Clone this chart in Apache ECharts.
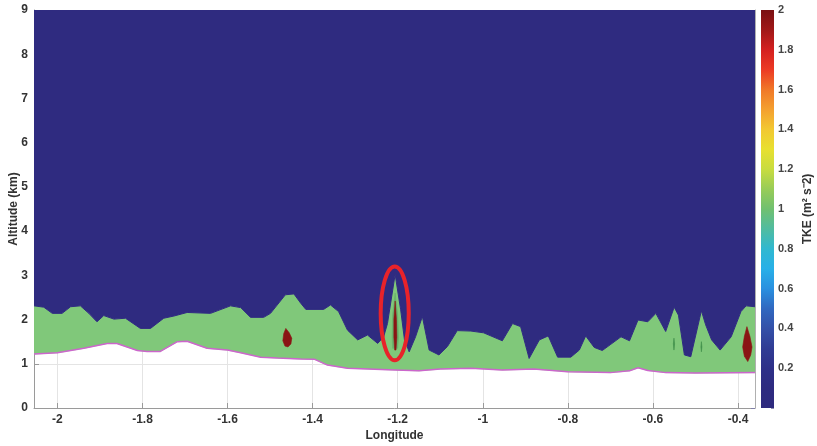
<!DOCTYPE html>
<html>
<head>
<meta charset="utf-8">
<style>
  html, body { margin: 0; padding: 0; background: #fff; }
  #main { width: 817px; height: 446px; }
</style>
<script src="https://cdn.jsdelivr.net/npm/echarts@6/dist/echarts.min.js"></script>
</head>
<body>
<div id="main"></div>
<script>
  // tick labels
  const lonTicks = [-2, -1.8, -1.6, -1.4, -1.2, -1, -0.8, -0.6, -0.4];

  // top of the TKE ~ 1 layer (lon, km)
  const tkeTop = [
    [-2.055, 2.31], [-2.032, 2.28], [-2.012, 2.14], [-1.989, 2.14], [-1.969, 2.29],
    [-1.946, 2.31], [-1.926, 2.14], [-1.907, 1.95], [-1.891, 2.09], [-1.867, 2.01],
    [-1.840, 2.03], [-1.805, 1.80], [-1.781, 1.80], [-1.750, 2.03], [-1.726, 2.08],
    [-1.695, 2.16], [-1.640, 2.14], [-1.593, 2.31], [-1.569, 2.27], [-1.546, 2.05],
    [-1.515, 2.05], [-1.499, 2.14], [-1.464, 2.56], [-1.444, 2.58], [-1.428, 2.37],
    [-1.416, 2.23], [-1.374, 2.23], [-1.358, 2.33], [-1.339, 2.18], [-1.318, 1.76],
    [-1.294, 1.54], [-1.271, 1.65], [-1.247, 1.46], [-1.233, 1.61], [-1.224, 1.91],
    [-1.206, 3.02], [-1.193, 2.22], [-1.184, 1.54], [-1.173, 1.27], [-1.158, 1.61],
    [-1.142, 2.07], [-1.126, 1.31], [-1.103, 1.20], [-1.083, 1.39], [-1.060, 1.75],
    [-1.028, 1.74], [-0.998, 1.70], [-0.954, 1.52], [-0.930, 1.91], [-0.911, 1.84],
    [-0.891, 1.12], [-0.867, 1.54], [-0.846, 1.63], [-0.824, 1.15], [-0.793, 1.15],
    [-0.773, 1.31], [-0.758, 1.63], [-0.738, 1.37], [-0.719, 1.30], [-0.699, 1.44],
    [-0.675, 1.61], [-0.655, 1.52], [-0.635, 1.99], [-0.612, 1.95], [-0.593, 2.14],
    [-0.570, 1.73], [-0.550, 2.28], [-0.540, 2.10], [-0.526, 1.20], [-0.511, 1.16],
    [-0.486, 2.20], [-0.476, 1.88], [-0.462, 1.54], [-0.442, 1.31], [-0.416, 1.61],
    [-0.393, 2.18], [-0.381, 2.31], [-0.360, 2.29]
  ];

  // terrain height (lon, km)
  const terrain = [
    [-2.055, 1.22], [-2.000, 1.25], [-1.938, 1.35], [-1.883, 1.46], [-1.860, 1.46],
    [-1.812, 1.30], [-1.789, 1.28], [-1.758, 1.28], [-1.718, 1.50], [-1.695, 1.51],
    [-1.648, 1.35], [-1.600, 1.31], [-1.569, 1.25], [-1.522, 1.15], [-1.483, 1.13],
    [-1.428, 1.11], [-1.395, 1.10], [-1.365, 0.97], [-1.318, 0.90], [-1.206, 0.86],
    [-1.150, 0.84], [-1.100, 0.88], [-1.028, 0.90], [-0.954, 0.86], [-0.880, 0.88],
    [-0.800, 0.82], [-0.700, 0.80], [-0.655, 0.84], [-0.635, 0.91], [-0.612, 0.85],
    [-0.570, 0.80], [-0.500, 0.79], [-0.360, 0.80]
  ];

  // TKE ~ 2 cores
  const coreA = [[-1.463, 1.80], [-1.455, 1.70], [-1.449, 1.58], [-1.451, 1.45], [-1.458, 1.38],
                 [-1.465, 1.40], [-1.470, 1.52], [-1.468, 1.68]];
  const coreB = [[-0.379, 1.84], [-0.372, 1.62], [-0.367, 1.38], [-0.370, 1.20], [-0.377, 1.05],
                 [-0.385, 1.17], [-0.389, 1.38], [-0.385, 1.62]];
  const streak = [[-1.206, 2.42], [-1.203, 2.0], [-1.202, 1.6], [-1.204, 1.31], [-1.207, 1.31],
                  [-1.209, 1.6], [-1.209, 2.0]];
  const streakHalo = [[-1.206, 2.6], [-1.200, 2.1], [-1.198, 1.6], [-1.200, 1.35], [-1.212, 1.35],
                      [-1.213, 1.6], [-1.212, 2.1]];
  const markA = [[-0.5505, 1.58], [-0.549, 1.45], [-0.5505, 1.31], [-0.552, 1.45]];
  const markB = [[-0.486, 1.50], [-0.4848, 1.38], [-0.486, 1.27], [-0.4872, 1.38]];

  // colour bar range
  const tkeRange = [0, 2];

  // highlighted feature (red ellipse)
  const highlight = { lon: -1.207, alt: 2.14, dLon: 0.033, dAlt: 1.06 };

  const NAVY = '#2f2b80';
  const GREEN = '#80c87a';
  const DARKRED = '#8a1414';

  // jet-like colour map, value -> colour
  const jet = [
    [2.0, '#7a1012'], [1.9, '#a01818'], [1.8, '#d42020'], [1.7, '#ec3a24'], [1.6, '#f07828'],
    [1.5, '#f4a030'], [1.4, '#f2c832'], [1.3, '#e8e030'], [1.2, '#c8dc40'], [1.1, '#98cc58'],
    [1.0, '#70c070'], [0.9, '#50bca0'], [0.8, '#30b8d0'], [0.7, '#28b0e8'], [0.6, '#2a90e0'],
    [0.5, '#3068c0'], [0.4, '#3450a8'], [0.3, '#303c94'], [0.2, '#2e3088'], [0.1, '#2e2b80'],
    [0.0, '#2e2a7e']
  ];

  function polySeries(points, color, z) {
    return {
      type: 'custom',
      xAxisIndex: 0,
      yAxisIndex: 0,
      z: z,
      silent: true,
      data: [points[0]],
      renderItem: function (params, api) {
        return {
          type: 'polygon',
          shape: { points: points.map(function (p) { return api.coord(p); }) },
          style: { fill: color, stroke: color, lineWidth: 0.6 }
        };
      }
    };
  }

  const labelStyle = { color: '#333', fontWeight: 'bold', fontSize: 12, fontFamily: 'Liberation Sans, Arial' };

  const chart = echarts.init(document.getElementById('main'));
  chart.setOption({
    backgroundColor: '#fff',
    animation: false,
    grid: [
      { left: 34, right: 62, top: 10, bottom: 38, outerBoundsMode: 'none' },
      { left: 761, width: 13, top: 10, bottom: 38, outerBoundsMode: 'none' }
    ],
    xAxis: [
      {
        type: 'value', gridIndex: 0, min: -2.055, max: -0.36,
        name: 'Longitude', nameLocation: 'middle', nameGap: 22, nameMoveOverlap: false,
        nameTextStyle: labelStyle,
        axisLine: { lineStyle: { color: '#9a9a9a' } },
        axisTick: { inside: true, length: 5, customValues: lonTicks, lineStyle: { color: '#9a9a9a' } },
        axisLabel: Object.assign({ margin: 6, customValues: lonTicks }, labelStyle),
        splitLine: { show: true, lineStyle: { color: '#e4e4e4' } }
      },
      {
        type: 'category', gridIndex: 1, data: [''],
        axisLine: { show: false }, axisTick: { show: false }, axisLabel: { show: false }
      }
    ],
    yAxis: [
      {
        type: 'value', gridIndex: 0, min: 0, max: 9, interval: 1,
        name: 'Altitude (km)', nameLocation: 'middle', nameGap: 14, nameMoveOverlap: false,
        nameTextStyle: labelStyle,
        axisLine: { show: true, lineStyle: { color: '#9a9a9a' } },
        axisTick: { show: true, inside: true, length: 5, lineStyle: { color: '#9a9a9a' } },
        axisLabel: Object.assign({ margin: 6 }, labelStyle),
        splitLine: { show: true, lineStyle: { color: '#e4e4e4' } }
      },
      {
        type: 'value', gridIndex: 0, min: 0, max: 9, interval: 1, position: 'right',
        axisLine: { show: true, lineStyle: { color: '#b0b0b0' } },
        axisTick: { show: true, inside: true, length: 4, lineStyle: { color: '#8080a8' } },
        axisLabel: { show: false },
        splitLine: { show: false }
      },
      {
        type: 'value', gridIndex: 1, min: tkeRange[0], max: tkeRange[1], interval: 0.2, position: 'right',
        name: 'TKE (m\u00b2 s\u207b2)', nameLocation: 'middle', nameGap: 28, nameMoveOverlap: false,
        nameTextStyle: labelStyle,
        axisLine: { show: false },
        axisTick: { show: true, inside: true, length: 3, lineStyle: { color: '#9090b0' } },
        axisLabel: Object.assign({ margin: 4, formatter: function (v) { return v === 0 ? '' : v; } },
          labelStyle, { fontSize: 11, color: '#444' }),
        splitLine: { show: false }
      }
    ],
    series: [
      // TKE ~ 1 layer between terrain and its top
      Object.assign(polySeries(tkeTop.concat(terrain.slice().reverse()), GREEN, 1), { clip: true }),
      // low TKE above the layer
      {
        type: 'line', xAxisIndex: 0, yAxisIndex: 0, z: 2, silent: true,
        data: tkeTop, symbol: 'none',
        lineStyle: { color: NAVY, width: 1 },
        areaStyle: { color: NAVY, opacity: 1, origin: 'end' }
      },
      polySeries(streakHalo, '#68b06c', 3),
      polySeries(markA, '#3f8f4a', 3),
      polySeries(markB, '#3f8f4a', 3),
      polySeries(coreA, DARKRED, 4),
      polySeries(coreB, DARKRED, 4),
      polySeries(streak, DARKRED, 4),
      // terrain
      {
        type: 'line', xAxisIndex: 0, yAxisIndex: 0, z: 5, silent: true,
        data: terrain, symbol: 'none',
        lineStyle: { color: '#cc66cc', width: 1.5 }
      },
      // highlight ellipse
      {
        type: 'custom', xAxisIndex: 0, yAxisIndex: 0, z: 6, silent: true,
        data: [[highlight.lon, highlight.alt]],
        renderItem: function (params, api) {
          const c = api.coord([highlight.lon, highlight.alt]);
          const e = api.coord([highlight.lon + highlight.dLon, highlight.alt + highlight.dAlt]);
          return {
            type: 'ellipse',
            shape: { cx: c[0], cy: c[1], rx: e[0] - c[0], ry: c[1] - e[1] },
            style: { fill: 'none', stroke: '#e8232a', lineWidth: 4 }
          };
        }
      },
      // colour bar
      {
        type: 'bar', xAxisIndex: 1, yAxisIndex: 2, silent: true,
        data: [tkeRange[1]], barWidth: '100%',
        itemStyle: {
          color: new echarts.graphic.LinearGradient(0, 0, 0, 1,
            jet.map(function (s) { return { offset: 1 - (s[0] - tkeRange[0]) / (tkeRange[1] - tkeRange[0]), color: s[1] }; }))
        }
      }
    ]
  });
</script>
</body>
</html>
